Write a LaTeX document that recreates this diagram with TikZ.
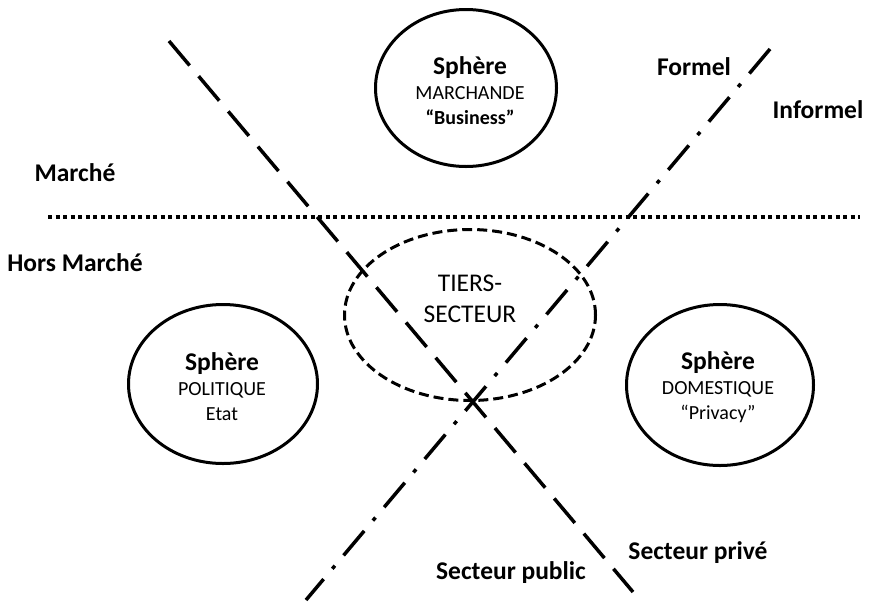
\documentclass[tikz,border=0pt]{standalone}
\usepackage{fontspec}
\setmainfont{Carlito}
\usetikzlibrary{shapes.geometric}
\newcommand\sphtitle[1]{{\fontsize{25.5}{26}\selectfont\bfseries #1}}

\begin{document}
\begin{tikzpicture}[x=1pt,y=-1pt,
 sphere/.style={draw,ellipse,line width=3pt,inner sep=0pt},
 tiers/.style={draw,ellipse,line width=3pt,inner sep=0pt,dash pattern=on 10pt off 5pt},
 sphtxt/.style={align=center,font=\fontsize{20}{25}\selectfont},
 lbl/.style={font=\fontsize{25.5}{28}\selectfont\bfseries},
 pubpriv/.style={line width=3.5pt,dash pattern=on 32pt off 14pt},
 forminf/.style={line width=3.5pt,dash pattern=on 32pt off 13.5pt on 4pt off 13.5pt},
 marche/.style={line width=4pt,dash pattern=on 4pt off 3.5pt}]
 \useasboundingbox (0,0) rectangle (869,603);
 % dividing lines
 \coordinate (marche-a) at (48,217); \coordinate (marche-b) at (860,217);
 \coordinate (pubpriv-a) at (169,41); \coordinate (pubpriv-b) at (633,592);
 \coordinate (forminf-a) at (770,49); \coordinate (forminf-b) at (306,600);
 \draw[marche] (marche-a)--(marche-b);
 \draw[pubpriv] (pubpriv-a)--(pubpriv-b);
 \draw[forminf] (forminf-a)--(forminf-b);
 % spheres
 \node[sphere,minimum width=181,minimum height=157] (marchande) at (466,88) {};
 \node[sphere,minimum width=189,minimum height=159] (politique) at (223,384) {};
 \node[sphere,minimum width=187,minimum height=161] (domestique) at (720,385) {};
 \node[tiers,minimum width=251,minimum height=171] (tiers) at (470,315) {};
 \node[sphtxt] (marchande-txt) at (470,91) {\sphtitle{Sphère}\\MARCHANDE\\\textbf{“Business”}};
 \node[sphtxt] (politique-txt) at (222,387) {\sphtitle{Sphère}\\POLITIQUE\\Etat};
 \node[sphtxt] (domestique-txt) at (718,387) {\sphtitle{Sphère}\\DOMESTIQUE\\“Privacy”};
 \node[align=center,font=\fontsize{25.5}{31}\selectfont] (tiers-txt) at (470,299) {TIERS-\\SECTEUR};
 % labels
 \node[lbl] (marche) at (75,173) {Marché};
 \node[lbl] (horsmarche) at (75,263) {Hors Marché};
 \node[lbl] (formel) at (694,67) {Formel};
 \node[lbl] (informel) at (818,110) {Informel};
 \node[lbl] (prive) at (698,553) {Secteur privé};
 \node[lbl] (public) at (511,573) {Secteur public};
\end{tikzpicture}
\end{document}
